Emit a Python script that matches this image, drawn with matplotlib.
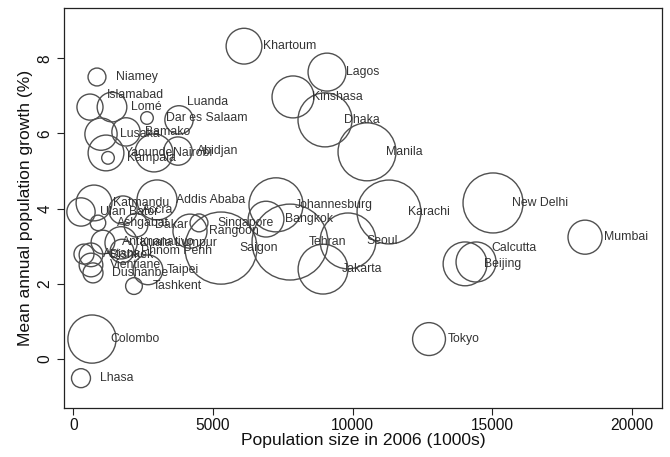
import matplotlib
matplotlib.use("Agg")
import matplotlib.pyplot as plt
import numpy as np

plt.rcParams['font.family'] = ['Liberation Sans', 'DejaVu Sans']

cities = ["Khartoum", "Lagos", "Kinshasa", "Dhaka", "Manila", "Karachi", "New Delhi",
          "Mumbai", "Calcutta", "Beijing", "Tokyo", "Colombo", "Lhasa", "Niamey",
          "Islamabad", "Lomé", "Luanda", "Dar es Salaam", "Lusaka", "Bamako",
          "Yaounde", "Kampala", "Nairobi", "Abidjan", "Katmandu", "Ulan Bator",
          "Accra", "Addis Ababa", "Ashgabat", "Dakar", "Antananarivo", "Kuala Lumpur",
          "Phnom Penh", "Astana", "Bishkek", "Vientiane", "Dushanbe", "Taipei",
          "Tashkent", "Rangoon", "Singapore", "Saigon", "Johannesburg", "Bangkok",
          "Tehran", "Seoul", "Jakarta"]

population = [6111, 9086, 7867, 9014, 10519, 11307, 15035,
              18332, 14426, 14032, 12741, 663, 269, 842,
              591, 1380, 3781, 2634, 986, 1882,
              1165, 1237, 2885, 3745, 735, 269,
              1774, 2993, 878, 2240, 1057, 1706,
              1738, 376, 627, 627, 699, 2670,
              2168, 4175, 4498, 5286, 7258, 6900,
              7759, 9838, 8942]

growth = [8.32, 7.63, 6.97, 6.36, 5.51, 3.91, 4.15,
          3.24, 2.58, 2.53, 0.53, 0.53, -0.51, 7.50,
          6.70, 6.70, 6.36, 6.41, 5.98, 6.04,
          5.48, 5.35, 5.48, 5.53, 4.15, 3.91,
          3.96, 4.23, 3.62, 3.56, 3.11, 3.09,
          2.87, 2.79, 2.77, 2.50, 2.29, 2.37,
          1.94, 3.40, 3.62, 2.95, 4.10, 3.72,
          3.11, 3.14, 2.39]

# relative bubble weight (area proportional)
weight = [32, 36, 44, 73, 84, 102, 90,
          29, 40, 48, 27, 58, 9, 8,
          17, 22, 20, 4, 26, 20,
          32, 4, 36, 20, 32, 20,
          20, 40, 6, 14, 14, 26,
          14, 10, 14, 14, 10, 22,
          7, 29, 8, 130, 73, 32,
          144, 78, 62]

# label placement adjustments (points) for labels not at 3 o'clock
label_shift = {"Islamabad": (12, 9), "Luanda": (6, 13), "Calcutta": (11, 10)}

fig = plt.figure(figsize=(6.70, 4.57), dpi=100)
ax = fig.add_axes([64/670, 1-408/457, (662-64)/670, (408-8)/457])

px2pt = 0.72
sizes = [(2 * np.sqrt(w * 10) * px2pt) ** 2 for w in weight]
ax.scatter(population, growth, s=sizes, facecolors='none', edgecolors='#505050',
           linewidths=1.0, zorder=2)

for c, x, y in zip(cities, population, growth):
    dx, dy = label_shift.get(c, (13.5, 0))
    ax.annotate(c, (x, y), xytext=(dx, dy), textcoords='offset points',
                ha='left', va='center', fontsize=8.8, color='#333333', zorder=3)

ax.set_xlim(-340, 21090)
ax.set_ylim((359-408)/37.6, (359-8)/37.6)
ax.set_xticks([0, 5000, 10000, 15000, 20000])
ax.set_yticks([0, 2, 4, 6, 8])
ax.set_yticklabels(['0', '2', '4', '6', '8'], rotation=90, va='center')
ax.tick_params(axis='both', direction='out', length=5, width=0.8, labelsize=11.2,
               color='#222222', labelcolor='#111111')
ax.tick_params(axis='x', pad=2)
ax.set_xlabel('Population size in 2006 (1000s)', fontsize=12.6, labelpad=0.5, color='#111111')
ax.set_ylabel('Mean annual population growth (%)', fontsize=12.6, labelpad=3, color='#111111')
for sp in ax.spines.values():
    sp.set_color('#222222')
    sp.set_linewidth(0.9)

fig.savefig('out.png', dpi=100)
